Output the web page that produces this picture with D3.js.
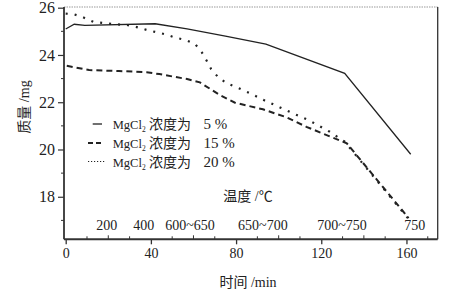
<!DOCTYPE html>
<html>
<head>
<meta charset="utf-8">
<script src="https://cdn.jsdelivr.net/npm/d3@7"></script>
<style>
  body { margin: 0; background: #fff; }
</style>
</head>
<body>
<div id="chart"></div>
<script>
// 质量随时间变化
const s5 = [[0, 25.1], [4, 25.3], [9, 25.25], [42, 25.32], [57, 25.1], [75, 24.8], [94, 24.46], [131, 23.22], [162, 19.8]];
const s15 = [[0.5, 23.54], [11, 23.36], [25, 23.32], [38, 23.27], [44, 23.19], [57, 22.98], [63, 22.84], [72.5, 22.3], [79.5, 21.98],
  [92.6, 21.7], [103.8, 21.36], [113, 20.96], [132, 20.26], [161, 17.1]];
const s20 = [[0, 25.75], [3.6, 25.73], [8, 25.6], [13, 25.4], [23, 25.3], [28.6, 25.27], [33.3, 25.18], [38, 25.06], [42.7, 24.96],
  [47, 24.87], [51.6, 24.73], [56.5, 24.63], [60.8, 24.46], [64, 24.1], [66, 23.79], [68.3, 23.4], [71.7, 23.05], [75.6, 22.8],
  [79.5, 22.66], [87.3, 22.35], [92.8, 22.1], [100.6, 21.78], [108.5, 21.46], [113.9, 21.25], [124, 20.75], [131, 20.33], [162, 16.95]];

const xTicks = [0, 40, 80, 120, 160];
const yTicks = [18, 20, 22, 24, 26];
const tempLabels = ["200", "400", "600~650", "650~700", "700~750", "750"];
const tempPos = [19.3, 36.6, 58.4, 92.6, 129.7, 163.9];
const legendConc = ["5 %", "15 %", "20 %"];

const FONT = "Liberation Serif, Noto Sans CJK SC, serif";
const INK = "#222";

const width = 452, height = 296;
const svg = d3.select("#chart").append("svg")
  .attr("width", width)
  .attr("height", height)
  .attr("font-family", FONT);

const x = d3.scaleLinear().domain([0, 175]).range([65.7, 438.4]);
const y = d3.scaleLinear().domain([16.2, 26]).range([239.3, 7.7]);

const pLeft = 64, pRight = 437.7, pTop = 7, pBottom = 239.3;

// 上边框 (浅灰虚线) 和右边框
svg.append("line").attr("x1", pLeft).attr("x2", pRight).attr("y1", pTop).attr("y2", pTop)
  .attr("stroke", "#999").attr("stroke-width", 1).attr("stroke-dasharray", "1.5,1");
svg.append("line").attr("x1", pRight).attr("x2", pRight).attr("y1", pTop).attr("y2", pBottom)
  .attr("stroke", "#333").attr("stroke-width", 1.3);

// x 轴
const xAxis = svg.append("g").attr("transform", `translate(0,${pBottom})`)
  .call(d3.axisBottom(x).tickValues(xTicks).tickSize(5).tickFormat(d3.format("d")));
xAxis.attr("font-family", FONT);
xAxis.select(".domain").remove();
xAxis.selectAll("line").attr("stroke", "#333").attr("stroke-width", 1.3);
xAxis.selectAll("text").attr("font-size", 14).attr("dy", "0.71em").attr("y", 9).attr("fill", INK);
// 小刻度
svg.append("g").selectAll("line")
  .data(d3.range(10, 175, 10).filter(d => d % 40 !== 0))
  .join("line")
  .attr("x1", d => x(d)).attr("x2", d => x(d))
  .attr("y1", pBottom).attr("y2", d => d % 20 === 0 ? pBottom - 4 : pBottom - 3)
  .attr("stroke", "#333").attr("stroke-width", 1);
svg.append("line").attr("x1", pLeft).attr("x2", pRight).attr("y1", pBottom).attr("y2", pBottom)
  .attr("stroke", "#333").attr("stroke-width", 2);

// y 轴
const yAxis = svg.append("g").attr("transform", `translate(${pLeft},0)`)
  .call(d3.axisLeft(y).tickValues(yTicks).tickSize(6).tickFormat(d3.format("d")));
yAxis.attr("font-family", FONT);
yAxis.select(".domain").remove();
yAxis.selectAll("line").attr("stroke", "#333").attr("stroke-width", 1.2);
yAxis.selectAll("text").attr("font-size", 16).attr("x", -9).attr("fill", INK);
svg.append("g").selectAll("line")
  .data([17, 19, 21, 23, 25])
  .join("line")
  .attr("x1", pLeft).attr("x2", pLeft - 3)
  .attr("y1", d => y(d)).attr("y2", d => y(d))
  .attr("stroke", "#333").attr("stroke-width", 1);
svg.append("line").attr("x1", pLeft).attr("x2", pLeft).attr("y1", pTop).attr("y2", pBottom)
  .attr("stroke", "#333").attr("stroke-width", 1.8);

// 轴标题
svg.append("text").attr("x", 248).attr("y", 287).attr("text-anchor", "middle")
  .attr("font-size", 14).attr("fill", INK).text("时间 /min");
svg.append("text").attr("transform", "translate(29,107) rotate(-90)").attr("text-anchor", "middle")
  .attr("font-size", 14).attr("fill", INK).text("质量 /mg");

// 温度标注
svg.append("text").attr("x", 248).attr("y", 201).attr("text-anchor", "middle")
  .attr("font-size", 14).attr("fill", INK).text("温度 /℃");
svg.append("g").selectAll("text")
  .data(tempLabels)
  .join("text")
  .attr("x", (d, i) => x(tempPos[i]))
  .attr("y", 230)
  .attr("text-anchor", "middle")
  .attr("font-size", 14)
  .attr("fill", INK)
  .text(d => d);

// 曲线
const line = d3.line().x(d => x(d[0])).y(d => y(d[1]));
const styles = [
  { data: s5, dash: null, w: 1.3 },
  { data: s15, dash: "6,4", w: 2 },
  { data: s20, dash: "2,7", w: 2.2 }
];
svg.append("g").selectAll("path")
  .data(styles)
  .join("path")
  .attr("d", d => line(d.data))
  .attr("fill", "none")
  .attr("stroke", INK)
  .attr("stroke-width", d => d.w)
  .attr("stroke-dasharray", d => d.dash);

// 图例
const legendY = [124, 143, 161.5];
const legendDash = [null, "5,3", "1.2,1.8"];
const legendW = [1.3, 2.2, 1];
const legendX1 = [92.7, 88, 88];
const lg = svg.append("g").attr("fill", INK);
legendY.forEach((ly, i) => {
  lg.append("line").attr("x1", legendX1[i]).attr("x2", i === 2 ? 105 : 102)
    .attr("y1", ly).attr("y2", ly)
    .attr("stroke", INK).attr("stroke-width", legendW[i])
    .attr("stroke-dasharray", legendDash[i]);
  const t = lg.append("text").attr("y", ly + 5).attr("font-size", 12.5);
  t.append("tspan").attr("x", 112.7).text("MgCl");
  t.append("tspan").attr("font-size", 7.5).attr("dy", 3).text("2");
  t.append("tspan").attr("x", 149).attr("dy", -3).attr("font-size", 14).text("浓度为");
  t.append("tspan").attr("x", 203.4).attr("font-size", 15).text(legendConc[i]);
});
</script>
</body>
</html>
